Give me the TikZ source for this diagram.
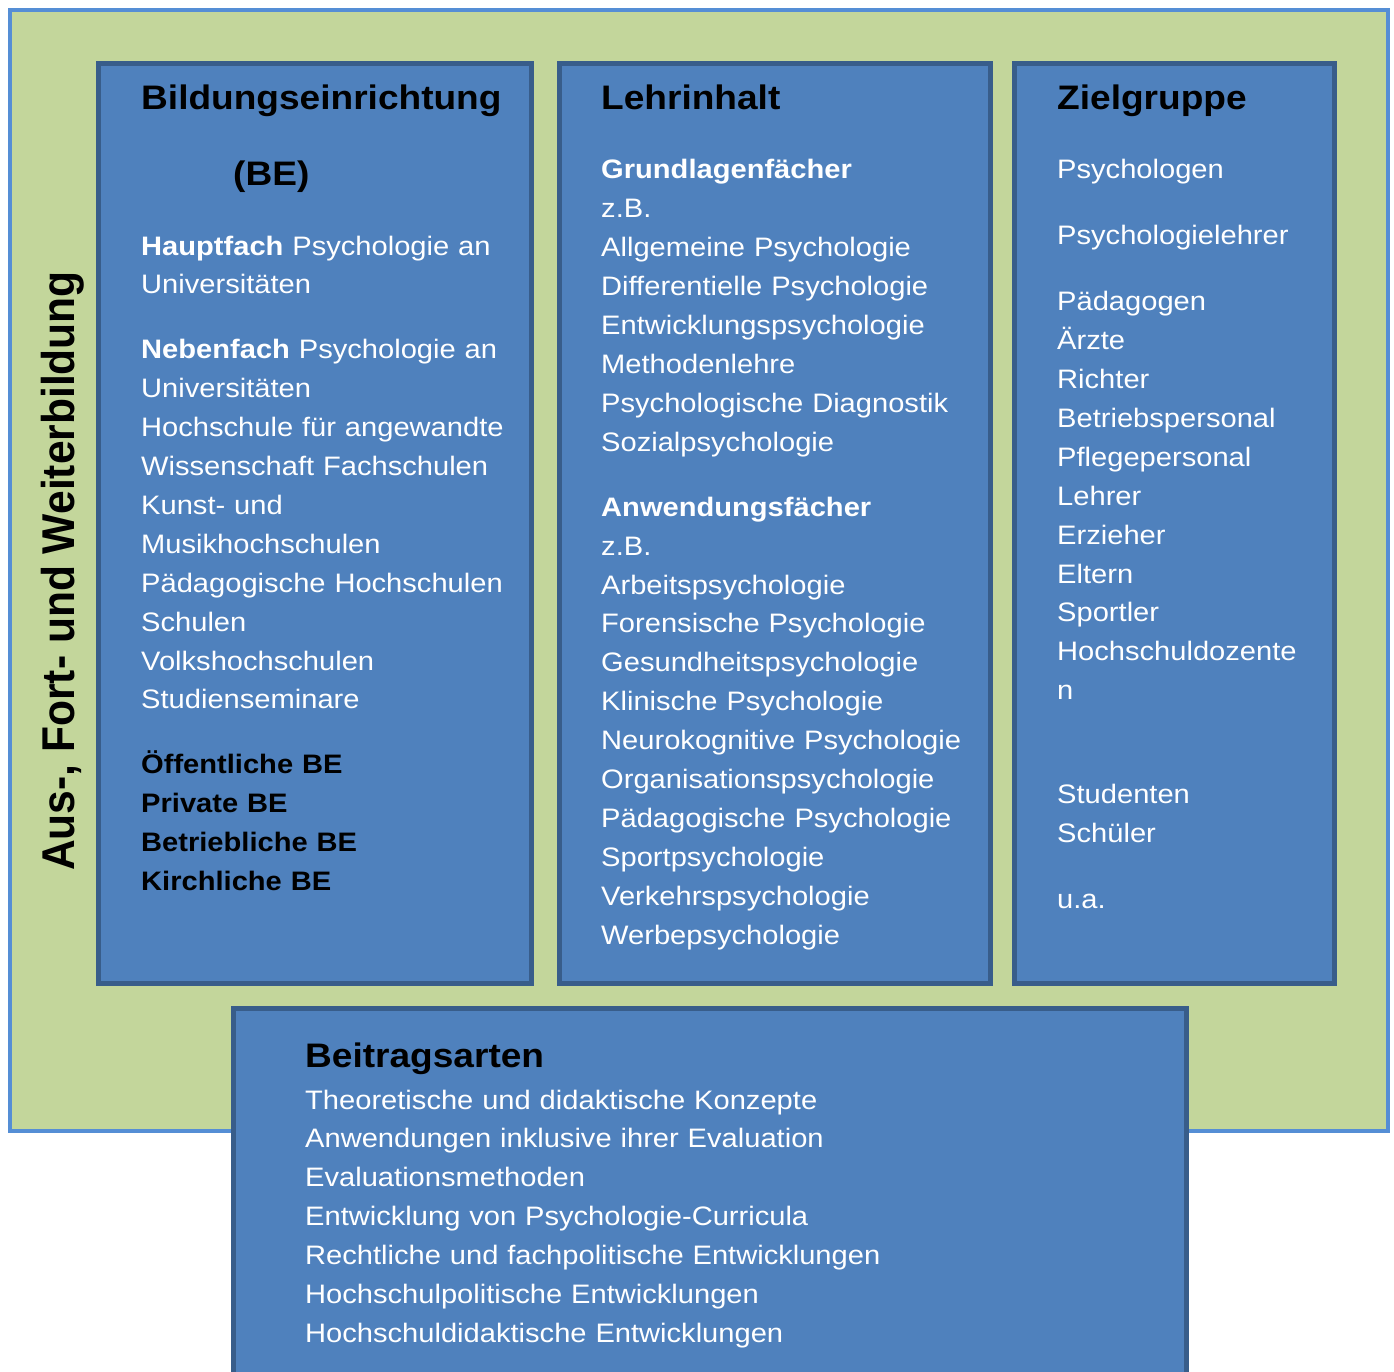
\documentclass[tikz,border=0pt]{standalone}
\usepackage{fontspec}
\setmainfont{Liberation Sans}[FakeStretch=1.09]
\newfontfamily\sidefont{Liberation Sans}[FakeStretch=0.925]
\definecolor{frameGreen}{HTML}{C3D69B}
\definecolor{frameBlue}{HTML}{558ED5}
\definecolor{panelBlue}{HTML}{4F81BD}
\definecolor{panelEdge}{HTML}{385D8A}
\begin{document}
\begin{tikzpicture}[x=1pt,y=-1pt,
  panel/.style={draw=panelEdge, fill=panelBlue, line width=5pt, anchor=north west, inner sep=0pt, outer sep=0pt},
  paneltitle/.style={anchor=base west, inner sep=0pt, font=\fontsize{34}{40}\selectfont\bfseries},
  paneltext/.style={anchor=base west, inner sep=0pt, text=white, align=left, font=\fontsize{26.7}{38.9}\selectfont}]
\useasboundingbox (0,0) rectangle (1394,1372);
\node[draw=frameBlue, fill=frameGreen, line width=4pt, anchor=north west, inner sep=0pt, outer sep=0pt, minimum width=1378pt, minimum height=1121pt] (frame) at (10,10) {};
\node[panel, minimum width=432.5pt, minimum height=919pt] (be) at (98.5,64) {};
\node[panel, minimum width=431pt, minimum height=919pt] (lehr) at (559,64) {};
\node[panel, minimum width=320pt, minimum height=919pt] (ziel) at (1014,64) {};
\node[panel, minimum width=952.5pt, minimum height=400pt] (beitrag) at (233.5,1008) {};
\node[rotate=90, anchor=base, inner sep=0pt, font=\sidefont\fontsize{46}{50}\selectfont\bfseries] (side) at (74,571) {Aus-, Fort- und Weiterbildung};
\node[paneltitle] (be-title) at (141,110) {Bildungseinrichtung};
\node[paneltitle] (be-abbr) at (233,186) {(BE)};
\node[paneltext, text width=385pt] (be-list) at (141,255) {{\bfseries Hauptfach} Psychologie an\\
Universitäten\\[26pt]
{\bfseries Nebenfach} Psychologie an\\
Universitäten\\
Hochschule für angewandte\\
Wissenschaft Fachschulen\\
Kunst- und\\
Musikhochschulen\\
Pädagogische Hochschulen\\
Schulen\\
Volkshochschulen\\
Studienseminare\\[26pt]
{\color{black}\bfseries Öffentliche BE}\\
{\color{black}\bfseries Private BE}\\
{\color{black}\bfseries Betriebliche BE}\\
{\color{black}\bfseries Kirchliche BE}};
\node[paneltitle] (lehr-title) at (601,110) {Lehrinhalt};
\node[paneltext, text width=385pt] (lehr-list) at (601,179) {{\bfseries Grundlagenfächer}\\
z.B.\\
Allgemeine Psychologie\\
Differentielle Psychologie\\
Entwicklungspsychologie\\
Methodenlehre\\
Psychologische Diagnostik\\
Sozialpsychologie\\[26pt]
{\bfseries Anwendungsfächer}\\
z.B.\\
Arbeitspsychologie\\
Forensische Psychologie\\
Gesundheitspsychologie\\
Klinische Psychologie\\
Neurokognitive Psychologie\\
Organisationspsychologie\\
Pädagogische Psychologie\\
Sportpsychologie\\
Verkehrspsychologie\\
Werbepsychologie};
\node[paneltitle] (ziel-title) at (1057,110) {Zielgruppe};
\node[paneltext, text width=270pt] (ziel-list) at (1057,179) {Psychologen\\[27pt]
Psychologielehrer\\[27pt]
Pädagogen\\
Ärzte\\
Richter\\
Betriebspersonal\\
Pflegepersonal\\
Lehrer\\
Erzieher\\
Eltern\\
Sportler\\
Hochschuldozente\\
n\\[65pt]
Studenten\\
Schüler\\[27pt]
u.a.};
\node[paneltitle] (beitrag-title) at (305,1067) {Beitragsarten};
\node[paneltext, text width=800pt] (beitrag-list) at (305,1109) {Theoretische und didaktische Konzepte\\
Anwendungen inklusive ihrer Evaluation\\
Evaluationsmethoden\\
Entwicklung von Psychologie-Curricula\\
Rechtliche und fachpolitische Entwicklungen\\
Hochschulpolitische Entwicklungen\\
Hochschuldidaktische Entwicklungen};
\end{tikzpicture}
\end{document}
